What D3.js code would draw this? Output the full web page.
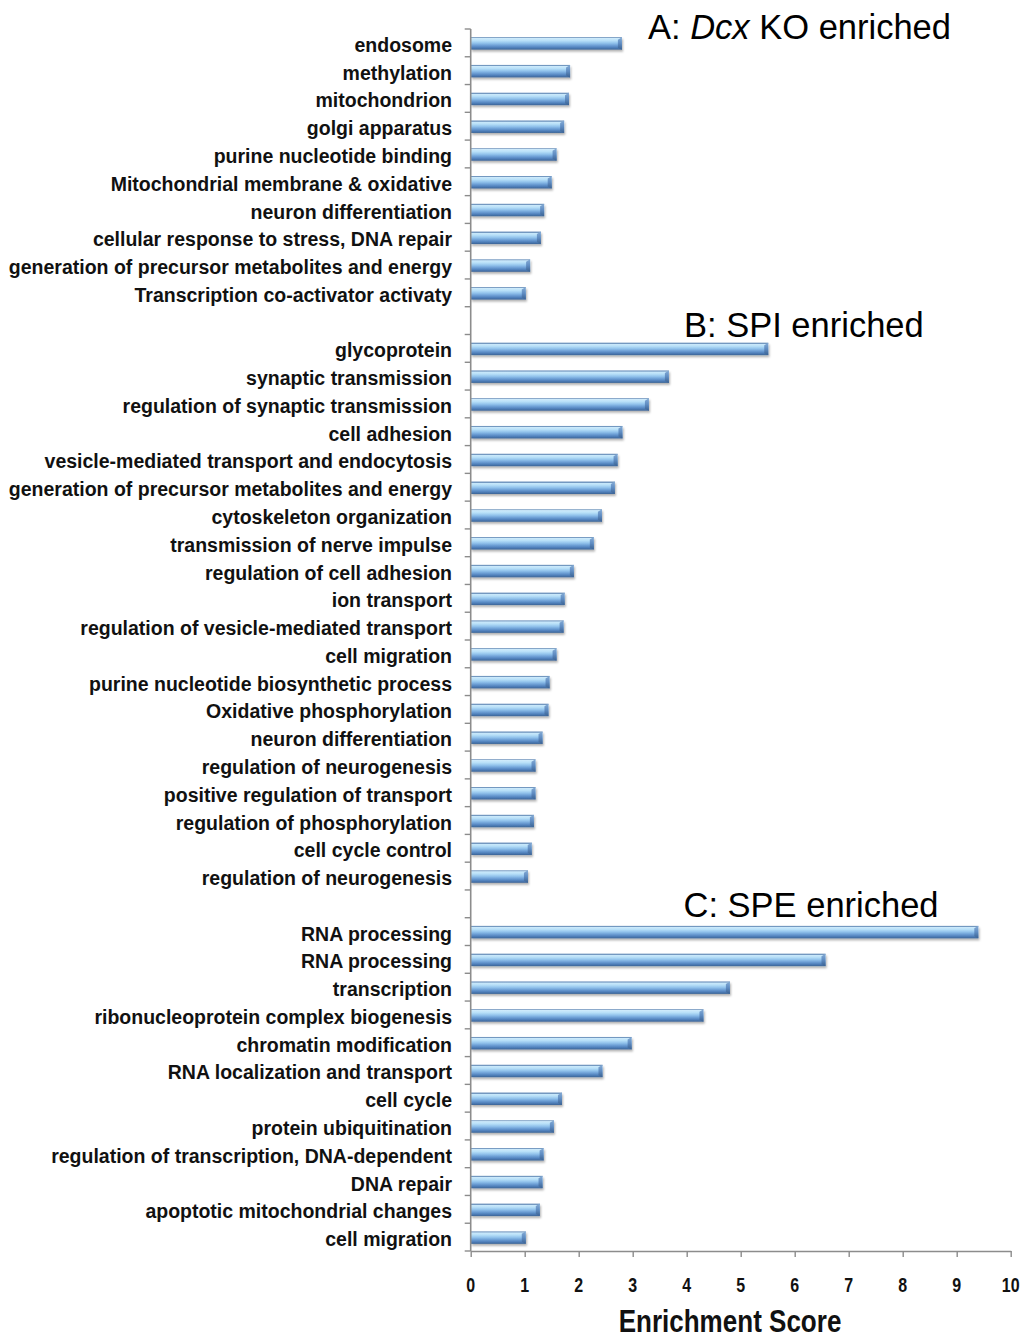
<!DOCTYPE html>
<html>
<head>
<meta charset="utf-8">
<script src="https://cdn.jsdelivr.net/npm/d3@7"></script>
<style>
  html, body { margin: 0; padding: 0; background: #fff; }
  svg { display: block; }
</style>
</head>
<body>
<svg id="chart" width="1024" height="1340"></svg>
<script>
// ---------- data ----------
const termsA = [
  "endosome", "methylation", "mitochondrion", "golgi apparatus",
  "purine nucleotide binding", "Mitochondrial membrane & oxidative",
  "neuron differentiation", "cellular response to stress, DNA repair",
  "generation of precursor metabolites and energy", "Transcription co-activator activaty"
];
const scoresA = [2.80, 1.84, 1.82, 1.73, 1.59, 1.50, 1.36, 1.30, 1.10, 1.02];

const termsB = [
  "glycoprotein", "synaptic transmission", "regulation of synaptic transmission",
  "cell adhesion", "vesicle-mediated transport and endocytosis",
  "generation of precursor metabolites and energy", "cytoskeleton organization",
  "transmission of nerve impulse", "regulation of cell adhesion", "ion transport",
  "regulation of vesicle-mediated transport", "cell migration",
  "purine nucleotide biosynthetic process", "Oxidative phosphorylation",
  "neuron differentiation", "regulation of neurogenesis",
  "positive regulation of transport", "regulation of phosphorylation",
  "cell cycle control", "regulation of neurogenesis"
];
const scoresB = [5.51, 3.67, 3.30, 2.81, 2.72, 2.67, 2.43, 2.28, 1.91, 1.74,
                 1.72, 1.59, 1.46, 1.44, 1.33, 1.20, 1.20, 1.17, 1.13, 1.06];

const termsC = [
  "RNA processing", "RNA processing", "transcription",
  "ribonucleoprotein complex biogenesis", "chromatin modification",
  "RNA localization and transport", "cell cycle", "protein ubiquitination",
  "regulation of transcription, DNA-dependent", "DNA repair",
  "apoptotic mitochondrial changes", "cell migration"
];
const scoresC = [9.40, 6.57, 4.80, 4.31, 2.98, 2.44, 1.69, 1.54, 1.35, 1.33, 1.28, 1.02];

const xTicks = [0, 1, 2, 3, 4, 5, 6, 7, 8, 9, 10];
const xTitle = "Enrichment Score";

// ---------- build rows (a blank slot separates the groups) ----------
const rows = [];
termsA.forEach((t, i) => rows.push({ id: "A" + i, label: t, value: scoresA[i] }));
rows.push({ id: "gap1", label: "", value: null });
termsB.forEach((t, i) => rows.push({ id: "B" + i, label: t, value: scoresB[i] }));
rows.push({ id: "gap2", label: "", value: null });
termsC.forEach((t, i) => rows.push({ id: "C" + i, label: t, value: scoresC[i] }));

// ---------- scales ----------
const svg = d3.select("#chart");
const x = d3.scaleLinear().domain([0, 10]).range([470.7, 1010.7]);
const y = d3.scaleBand().domain(rows.map(d => d.id)).range([29, 1251]).paddingInner(0).paddingOuter(0);
const bw = y.bandwidth();
const barH = 12.5;

// ---------- defs ----------
const defs = svg.append("defs");
const grad = defs.append("linearGradient").attr("id", "barGrad")
  .attr("x1", 0).attr("y1", 0).attr("x2", 0).attr("y2", 1);
[
  [0, "#7398c0"], [0.08, "#7398c0"], [0.1, "#cdeafb"], [0.28, "#b8e0f8"],
  [0.48, "#92c3ec"], [0.66, "#6e a0d6".replace(" ", "")], [0.84, "#4f7fba"], [1, "#3c6495"]
].forEach(([o, c]) => grad.append("stop").attr("offset", o).attr("stop-color", c));

const endGrad = defs.append("linearGradient").attr("id", "endGrad")
  .attr("x1", 0).attr("y1", 0).attr("x2", 0).attr("y2", 1);
[[0, "#86acd6"], [0.5, "#5f8cc2"], [1, "#3a6191"]]
  .forEach(([o, c]) => endGrad.append("stop").attr("offset", o).attr("stop-color", c));

const shadow = defs.append("filter").attr("id", "shadow")
  .attr("x", "-5%").attr("y", "-50%").attr("width", "110%").attr("height", "220%");
shadow.append("feDropShadow").attr("dx", 1).attr("dy", 2).attr("stdDeviation", 1.3)
  .attr("flood-color", "#000").attr("flood-opacity", 0.3);

// ---------- bars ----------
const dataRows = rows.filter(d => d.value !== null);
const barG = svg.append("g");
const bars = barG.selectAll("g.bar").data(dataRows).join("g").attr("class", "bar")
  .attr("filter", "url(#shadow)");

bars.append("rect")
  .attr("x", x(0))
  .attr("y", d => y(d.id) + (bw - barH) / 2 + 0.5)
  .attr("width", d => x(d.value) - x(0))
  .attr("height", barH)
  .attr("fill", "url(#barGrad)");

// beveled right end
bars.append("path")
  .attr("d", d => {
    const x1 = x(d.value), t = y(d.id) + (bw - barH) / 2 + 0.5, b = t + barH;
    return `M${x1 - 4},${t + 2.5} L${x1},${t} L${x1},${b} L${x1 - 4},${b - 2} Z`;
  })
  .attr("fill", "url(#endGrad)");

// ---------- y axis (ticks at band boundaries) ----------
const axisColor = "#8c8c8c";
const bounds = rows.map(d => y(d.id)).concat([y.range()[1]]);
svg.append("line")
  .attr("x1", x(0)).attr("x2", x(0))
  .attr("y1", y.range()[0]).attr("y2", y.range()[1])
  .attr("stroke", axisColor).attr("stroke-width", 1.6);
svg.append("g").selectAll("line").data(bounds).join("line")
  .attr("x1", x(0) - 6).attr("x2", x(0))
  .attr("y1", d => d).attr("y2", d => d)
  .attr("stroke", axisColor).attr("stroke-width", 1.4);

// category labels
svg.append("g").selectAll("text").data(dataRows).join("text")
  .attr("x", 452)
  .attr("y", d => y(d.id) + bw / 2 + 9)
  .attr("text-anchor", "end")
  .attr("font-family", "'Liberation Sans', Arial, sans-serif")
  .attr("font-weight", "bold")
  .attr("font-size", "19.5px")
  .attr("fill", "#111")
  .text(d => d.label);

// ---------- x axis ----------
const xAxis = d3.axisBottom(x).tickValues(xTicks).tickSize(6).tickSizeOuter(0).tickFormat("");
const xg = svg.append("g").attr("transform", `translate(0,${y.range()[1]})`).call(xAxis);
xg.select(".domain").attr("stroke", axisColor).attr("stroke-width", 1.6);
xg.selectAll(".tick line").attr("stroke", axisColor).attr("stroke-width", 1.4);

// narrow bold tick labels (horizontally condensed)
svg.append("g").selectAll("text").data(xTicks).join("text")
  .attr("transform", d => `translate(${x(d)},1292) scale(0.82,1)`)
  .attr("text-anchor", "middle")
  .attr("font-family", "'Liberation Sans', Arial, sans-serif")
  .attr("font-weight", "bold")
  .attr("font-size", "19.5px")
  .attr("fill", "#111")
  .text(d => d);

svg.append("text")
  .attr("transform", "translate(730,1332) scale(0.84,1)")
  .attr("text-anchor", "middle")
  .attr("font-family", "'Liberation Sans', Arial, sans-serif")
  .attr("font-weight", "bold")
  .attr("font-size", "31px")
  .attr("fill", "#111")
  .text(xTitle);

// ---------- panel titles ----------
const titleFont = "'Liberation Sans', Arial, sans-serif";
const tA = svg.append("text").attr("x", 648).attr("y", 39)
  .attr("font-family", titleFont).attr("font-size", "34.5px").attr("fill", "#000");
tA.append("tspan").text("A: ");
tA.append("tspan").attr("font-style", "italic").text("Dcx");
tA.append("tspan").text(" KO enriched");

svg.append("text").attr("x", 684).attr("y", 337)
  .attr("font-family", titleFont).attr("font-size", "34.5px").attr("fill", "#000")
  .text("B: SPI enriched");

svg.append("text").attr("x", 683.5).attr("y", 917)
  .attr("font-family", titleFont).attr("font-size", "34.5px").attr("fill", "#000")
  .text("C: SPE enriched");
</script>
</body>
</html>
